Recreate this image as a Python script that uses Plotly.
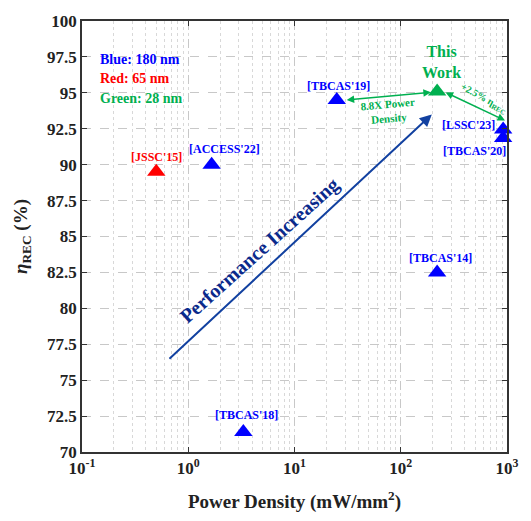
import numpy as np
import plotly.graph_objects as go

# ---- data ----
labels = ["[JSSC'15]", "[ACCESS'22]", "[TBCAS'18]", "[TBCAS'19]", "[TBCAS'14]",
          "[LSSC'23]", "[TBCAS'20]", "This Work"]
power_density = [0.5, 1.66, 3.3, 25, 220, 920, 920, 220]   # mW/mm^2
eta_rec = [89.5, 90.0, 71.4, 94.5, 82.5, 92.45, 91.85, 95.1]  # %
process = ["65 nm", "180 nm", "180 nm", "180 nm", "180 nm", "180 nm", "180 nm", "28 nm"]

x_tick_vals = [0.1, 1, 10, 100, 1000]
x_tick_text = ["10<sup>-1</sup>", "10<sup>0</sup>", "10<sup>1</sup>", "10<sup>2</sup>", "10<sup>3</sup>"]
y_tick_vals = [70, 72.5, 75, 77.5, 80, 82.5, 85, 87.5, 90, 92.5, 95, 97.5, 100]

BLUE = "#0000FF"
RED = "#FF0000"
GREEN = "#00B050"
NAVY = "#0B2A8C"
color_map = {"180 nm": BLUE, "65 nm": RED, "28 nm": GREEN}
colors = [color_map[p] for p in process]

FONT = "Liberation Serif"

fig = go.Figure()
fig.add_trace(go.Scatter(
    x=power_density, y=eta_rec, mode="markers",
    marker=dict(symbol="triangle-up", size=16, color=colors, line=dict(width=0)),
    cliponaxis=False, showlegend=False, hoverinfo="skip"))

ann = []
# point labels: (xshift, yshift, xanchor)
label_pos = {
    "[JSSC'15]": (0, 15, "center"),
    "[ACCESS'22]": (13, 16, "center"),
    "[TBCAS'18]": (3, 17, "center"),
    "[TBCAS'19]": (2, 14, "center"),
    "[TBCAS'14]": (3, 14, "center"),
    "[LSSC'23]": (-6, 4, "right"),
    "[TBCAS'20]": (5, -13, "right"),
}
for lab, xv, yv, c in zip(labels, power_density, eta_rec, colors):
    if lab not in label_pos:
        continue
    dx, dy, xa = label_pos[lab]
    ann.append(dict(x=np.log10(xv), y=yv, xref="x", yref="y", text=lab, showarrow=False,
                    xshift=dx, yshift=dy, xanchor=xa, yanchor="middle",
                    font=dict(family=FONT, size=12, color=c, weight="bold")))

# This Work label
ann.append(dict(x=np.log10(240), y=97.15, xref="x", yref="y", text="This<br>Work",
                showarrow=False, font=dict(family=FONT, size=16, color=GREEN, weight="bold")))

# legend text
for i, (t, c) in enumerate([("Blue: 180 nm", BLUE), ("Red: 65 nm", RED), ("Green: 28 nm", GREEN)]):
    ann.append(dict(x=np.log10(0.14), y=97.3 - i * 1.33, xref="x", yref="y", text=t, showarrow=False,
                    xanchor="left", yanchor="middle",
                    font=dict(family=FONT, size=14, color=c, weight="bold")))

# performance arrow
perf_start = (0.644, 76.4)
perf_end = (196, 93.5)
ann.append(dict(x=np.log10(perf_end[0]), y=perf_end[1], ax=np.log10(perf_start[0]), ay=perf_start[1],
                xref="x", yref="y", axref="x", ayref="y", text="", showarrow=True,
                arrowhead=2, arrowsize=1.2, arrowwidth=2, arrowcolor="#1241A0"))
ann.append(dict(x=np.log10(4.7), y=84.0, xref="x", yref="y", text="Performance Increasing",
                showarrow=False, textangle=-42,
                font=dict(family=FONT, size=20, color=NAVY, weight="bold")))

# green double arrows
g1 = ((30, 94.5), (192, 95.04))
g2 = ((256, 95.08), (958, 93.08))
for (a, b) in (g1, g2):
    ann.append(dict(x=np.log10(b[0]), y=b[1], ax=np.log10(a[0]), ay=a[1],
                    xref="x", yref="y", axref="x", ayref="y", text="", showarrow=True,
                    arrowhead=2, startarrowhead=2, arrowside="end+start", arrowsize=1,
                    startarrowsize=1, arrowwidth=1.5, arrowcolor=GREEN))
ann.append(dict(x=np.log10(76.6), y=93.77, xref="x", yref="y", text="8.8X Power<br>Density",
                showarrow=False, textangle=-5,
                font=dict(family=FONT, size=11, color=GREEN, weight="bold")))
ann.append(dict(x=np.log10(598), y=94.6, xref="x", yref="y", text="+2.5% η<sub>REC</sub>",
                showarrow=False, textangle=29,
                font=dict(family=FONT, size=10, color=GREEN, weight="bold")))

axis_common = dict(showline=True, linecolor="#333333", linewidth=1.5, mirror="ticks",
                   ticks="inside", ticklen=5, tickcolor="#333333", tickwidth=1.2,
                   showgrid=True, gridcolor="#C8C8C8", griddash="dash", gridwidth=1,
                   zeroline=False,
                   tickfont=dict(family=FONT, size=17, color="#222222", weight="bold"))

fig.update_xaxes(type="log", range=[-1, 3], tickvals=x_tick_vals, ticktext=x_tick_text,
                 minor=dict(showgrid=True, gridcolor="#D8D8D8", griddash="dot", gridwidth=1,
                            dtick="D1", ticks=""),
                 title=dict(text="Power Density (mW/mm<sup>2</sup>)",
                            font=dict(family=FONT, size=19, color="#222222", weight="bold"),
                            standoff=18),
                 **axis_common)
fig.update_yaxes(range=[70, 100], tickvals=y_tick_vals,
                 ticktext=[f"{v:g}" for v in y_tick_vals],
                 title=dict(text="<i>η</i><sub>REC</sub> (%)",
                            font=dict(family=FONT, size=19, color="#222222", weight="bold"),
                            standoff=14),
                 **axis_common)

fig.update_layout(width=531, height=521, margin=dict(l=82, r=19, t=19, b=68),
                  font=dict(family=FONT, color="#222222"),
                  plot_bgcolor="white", paper_bgcolor="white", annotations=ann,
                  showlegend=False)

fig.write_html("out.html", config={"displayModeBar": False},
               post_script="document.body.style.margin='0';document.body.style.overflow='hidden';")
